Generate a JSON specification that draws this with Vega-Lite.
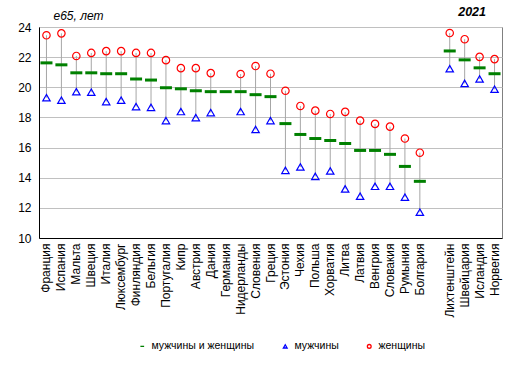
{
  "$schema": "https://vega.github.io/schema/vega-lite/v6.json",
  "autosize": "none",
  "width": 463,
  "height": 211,
  "padding": {"left": 39, "top": 27, "right": 14, "bottom": 130},
  "background": "white",
  "title": {"text": "2021", "anchor": "end", "fontStyle": "italic", "fontWeight": "bold", "font": "Liberation Sans", "fontSize": 12.5, "offset": 5, "dx": -16, "dy": 14},
  "config": {
    "font": "Liberation Sans",
    "view": {"stroke": "#808080", "strokeWidth": 1},
    "axisY": {"values": [10,12,14,16,18,20,22,24], "labelOverlap": false, "ticks": false, "labelFontSize": 12, "labelColor": "#000", "labelPadding": 8, "domainColor": "#000", "gridColor": "#C0C0C0", "grid": true}
  },
  "datasets": {
    "d": [
      {"c": "Франция", "t": 21.62, "m": 19.31, "w": 23.45},
      {"c": "Испания", "t": 21.49, "m": 19.14, "w": 23.58},
      {"c": "Мальта", "t": 20.96, "m": 19.71, "w": 22.08},
      {"c": "Швеция", "t": 20.96, "m": 19.67, "w": 22.28},
      {"c": "Италия", "t": 20.9, "m": 19.05, "w": 22.4},
      {"c": "Люксембург", "t": 20.9, "m": 19.14, "w": 22.4},
      {"c": "Финляндия", "t": 20.55, "m": 18.72, "w": 22.28},
      {"c": "Бельгия", "t": 20.48, "m": 18.67, "w": 22.28},
      {"c": "Португалия", "t": 19.97, "m": 17.79, "w": 21.8},
      {"c": "Кипр", "t": 19.9, "m": 18.39, "w": 21.27},
      {"c": "Австрия", "t": 19.77, "m": 17.99, "w": 21.27},
      {"c": "Дания", "t": 19.71, "m": 18.32, "w": 20.94},
      {"c": "Германия", "t": 19.71},
      {"c": "Нидерланды", "t": 19.71, "m": 18.39, "w": 20.88},
      {"c": "Словения", "t": 19.51, "m": 17.2, "w": 21.41},
      {"c": "Греция", "t": 19.38, "m": 17.79, "w": 20.9},
      {"c": "Эстония", "t": 17.59, "m": 14.49, "w": 19.77},
      {"c": "Чехия", "t": 16.87, "m": 14.71, "w": 18.76},
      {"c": "Польша", "t": 16.6, "m": 14.09, "w": 18.45},
      {"c": "Хорватия", "t": 16.47, "m": 14.45, "w": 18.23},
      {"c": "Литва", "t": 16.27, "m": 13.26, "w": 18.37},
      {"c": "Латвия", "t": 15.81, "m": 12.77, "w": 17.79},
      {"c": "Венгрия", "t": 15.81, "m": 13.43, "w": 17.57},
      {"c": "Словакия", "t": 15.55, "m": 13.43, "w": 17.39},
      {"c": "Румыния", "t": 14.75, "m": 12.71, "w": 16.6},
      {"c": "Болгария", "t": 13.76, "m": 11.71, "w": 15.66},
      {"c": "Лихтенштейн", "t": 22.41, "m": 21.23, "w": 23.6},
      {"c": "Швейцария", "t": 21.82, "m": 20.26, "w": 23.19},
      {"c": "Исландия", "t": 21.29, "m": 20.55, "w": 22.02},
      {"c": "Норвегия", "t": 20.9, "m": 19.87, "w": 21.87}
    ]
  },
  "data": {"name": "d"},
  "encoding": {
    "x": {
      "field": "c", "type": "nominal", "sort": null,
      "scale": {
        "domain": ["Франция","Испания","Мальта","Швеция","Италия","Люксембург","Финляндия","Бельгия","Португалия","Кипр","Австрия","Дания","Германия","Нидерланды","Словения","Греция","Эстония","Чехия","Польша","Хорватия","Литва","Латвия","Венгрия","Словакия","Румыния","Болгария"," ","Лихтенштейн","Швейцария","Исландия","Норвегия"],
        "paddingInner": 0, "paddingOuter": 0
      },
      "axis": {"title": null, "labelAngle": -90, "labelAlign": "right", "labelBaseline": "middle", "labelFontSize": 12, "labelColor": "#000", "ticks": false, "labelPadding": 5, "domainColor": "#000", "labelOverlap": false}
    }
  },
  "layer": [
    {
      "transform": [{"filter": "isValid(datum.m)"}],
      "mark": {"type": "rule", "color": "#A6A6A6", "strokeWidth": 1},
      "encoding": {
        "y": {"field": "m", "type": "quantitative",
          "scale": {"domain": [10, 24], "nice": false, "zero": false},
          "axis": {"title": "e65, лет", "titleAngle": 0, "titleAlign": "left", "titleBaseline": "alphabetic", "titleX": 14, "titleY": -8, "titleFontStyle": "italic", "titleFontWeight": "normal", "titleFontSize": 12, "titleColor": "#000"}
        },
        "y2": {"field": "w"}
      }
    },
    {
      "mark": {"type": "tick", "color": "#008000", "size": 12, "thickness": 3, "opacity": 1},
      "encoding": {
        "y": {"field": "t", "type": "quantitative"}
      }
    },
    {
      "transform": [
        {"fold": ["m", "w"], "as": ["s", "v"]},
        {"filter": "isValid(datum.v)"}
      ],
      "mark": {"type": "point", "filled": false, "opacity": 1, "size": 55, "strokeWidth": 1.2},
      "encoding": {
        "y": {"field": "v", "type": "quantitative"},
        "color": {"field": "s", "type": "nominal",
          "scale": {"domain": ["t", "m", "w"], "range": ["#008000", "#0000FF", "#FF0000"]},
          "legend": {"orient": "none", "legendX": 98, "legendY": 314, "direction": "horizontal", "title": null, "labelExpr": "datum.label == 't' ? 'мужчины и женщины' : datum.label == 'm' ? 'мужчины' : 'женщины'", "labelFontSize": 10.5, "labelColor": "#000", "columnPadding": 25, "labelOffset": 4, "symbolSize": 14, "symbolStrokeWidth": 1.3, "symbolFillColor": "white"}
        },
        "shape": {"field": "s", "type": "nominal",
          "scale": {"domain": ["t", "m", "w"], "range": ["M-1,0L1,0", "triangle-up", "circle"]}
        }
      }
    }
  ]
}
